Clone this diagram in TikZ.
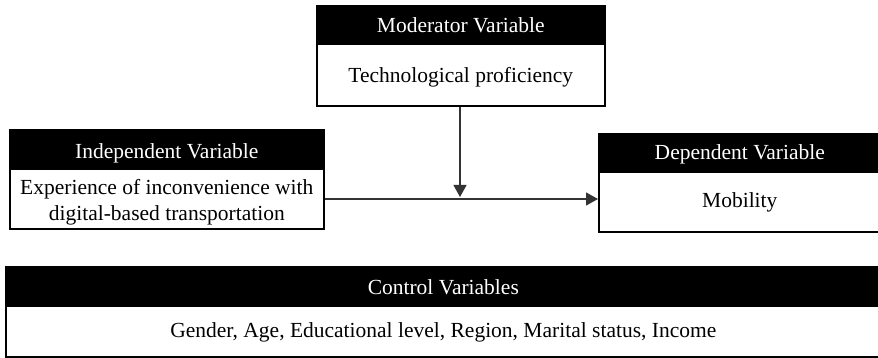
\documentclass[tikz,border=0pt]{standalone}
\usepackage{fontspec}
\setmainfont{Liberation Serif}
\usetikzlibrary{arrows.meta}
\begin{document}
\begin{tikzpicture}[x=1pt,y=-1pt,
  hdr/.style={draw=black, fill=black, line width=1.6pt, anchor=north west, inner sep=0pt},
  bodybox/.style={draw=black, fill=white, line width=1.6pt, anchor=north west, inner sep=0pt},
  htxt/.style={text=white, inner sep=0pt, align=center, font=\fontsize{21.5}{26}\selectfont},
  btxt/.style={text=black, inner sep=0pt, align=center, font=\fontsize{21.5}{26}\selectfont},
  conn/.style={draw=black!80, line width=1.1pt, -{Triangle[length=12pt,width=13pt]}}]
\useasboundingbox (0,0) rectangle (878,358);
% Moderator
\node[hdr, minimum width=288pt, minimum height=38pt] (modh) at (316,5) {};
\node[bodybox, minimum width=288pt, minimum height=62pt] (modb) at (316,43) {};
\node[htxt] (modht) at (modh.center) {Moderator Variable};
\node[btxt] (modbt) at ([yshift=-2pt]modb.center) {Technological proficiency};
% Independent
\node[hdr, minimum width=314pt, minimum height=39pt] (indh) at (9,129) {};
\node[bodybox, minimum width=314pt, minimum height=60pt] (indb) at (9,168) {};
\node[htxt] (indht) at ([yshift=-4pt]indh.center) {Independent Variable};
\node[btxt] (indbt) at ([yshift=-3pt]indb.center) {Experience of inconvenience with\\digital-based transportation};
% Dependent
\node[hdr, minimum width=282pt, minimum height=38pt] (deph) at (598,133) {};
\node[bodybox, minimum width=282pt, minimum height=60pt] (depb) at (598,171) {};
\node[htxt] (depht) at ([yshift=-1.5pt]deph.center) {Dependent Variable};
\node[btxt] (depbt) at ([yshift=-1pt]depb.center) {Mobility};
% Control
\node[hdr, minimum width=875pt, minimum height=39pt] (conh) at (5,266) {};
\node[bodybox, minimum width=875pt, minimum height=51pt] (conb) at (5,305) {};
\node[htxt] (conht) at ([yshift=-1pt]conh.center) {Control Variables};
\node[btxt] (conbt) at ([yshift=-1pt]conb.center) {Gender, Age, Educational level, Region, Marital status, Income};
% connectors
\coordinate (mid) at (460,199);
\draw[conn] (indb.east |- mid) -- (depb.west |- mid);
\draw[conn] (modb.south -| mid) -- ([yshift=2pt]mid);
\end{tikzpicture}
\end{document}
